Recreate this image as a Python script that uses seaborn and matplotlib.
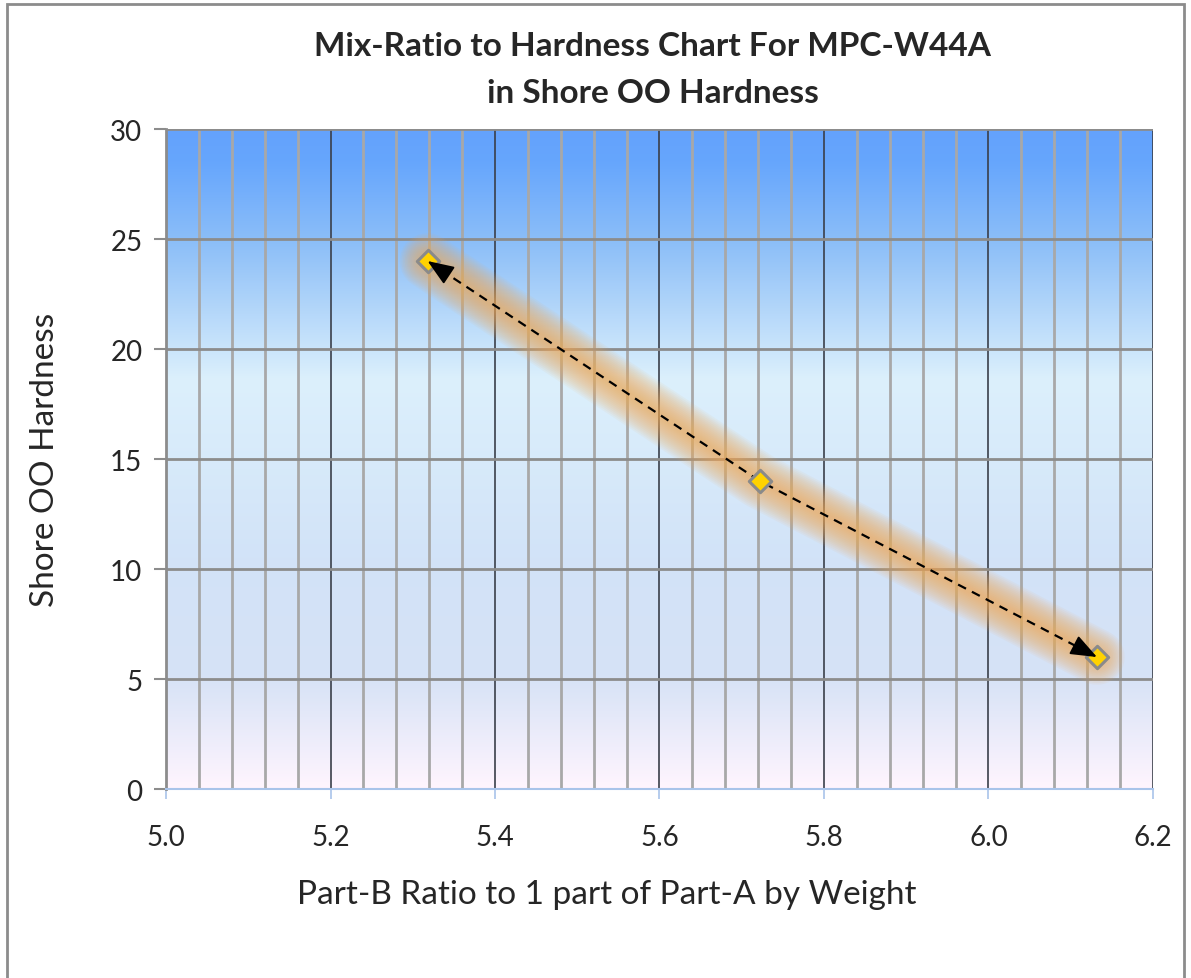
import matplotlib
matplotlib.use('Agg')
import matplotlib.pyplot as plt
import numpy as np
import pandas as pd
import seaborn as sns
from matplotlib.colors import LinearSegmentedColormap
from matplotlib.patches import Rectangle

# data
ratio = [5.318, 5.722, 6.132]
hardness = [24, 14, 6]
x_ticks = [5.0, 5.2, 5.4, 5.6, 5.8, 6.0, 6.2]
y_ticks = [0, 5, 10, 15, 20, 25, 30]

df = pd.DataFrame({'ratio': ratio, 'hardness': hardness})

sns.set_theme(style='white')
plt.rcParams['font.family'] = ['Lato', 'DejaVu Sans']

fig = plt.figure(figsize=(11.91, 9.79), dpi=100)
ax = fig.add_axes([0.1394, 0.193, 0.968 - 0.1394, 0.8672 - 0.193])

# gradient background (excel-ish preset)
grad = LinearSegmentedColormap.from_list('bg', [
    (0.00, '#FFF5FE'),
    (0.17, '#D6E2F6'),
    (0.35, '#D2E3F8'),
    (0.62, '#DCF0FC'),
    (0.82, '#8FC0F8'),
    (0.95, '#66A6FD'),
    (1.00, '#64A2FC'),
])
ax.imshow(np.linspace(0, 1, 256).reshape(-1, 1), cmap=grad, origin='lower',
          extent=[5.0, 6.2, 0, 30], aspect='auto', zorder=0)

ax.set_xlim(5.0, 6.2)
ax.set_ylim(0, 30)

# grid
ax.set_xticks(x_ticks)
ax.set_xticks(np.arange(5.0, 6.2001, 0.04), minor=True)
ax.set_yticks(y_ticks)
ax.grid(which='minor', axis='x', color='#A8A8A8', lw=2.0, zorder=1)
ax.grid(which='major', axis='x', color='#3A3F4A', lw=1.2, zorder=1.5)
ax.grid(which='major', axis='y', color='#8C8C8C', lw=2.0, zorder=1.2)

# soft glow under the line
for lw in np.linspace(40, 4, 16):
    ax.plot(df['ratio'], df['hardness'], color='#F2A955', lw=lw, alpha=0.07,
            solid_capstyle='round', solid_joinstyle='round', zorder=2)

sns.lineplot(data=df, x='ratio', y='hardness', ax=ax, color='black', lw=1.6,
             linestyle=(0, (4, 3)), sort=False, zorder=3)

sns.scatterplot(data=df, x='ratio', y='hardness', ax=ax, marker='D', s=130,
                color='#FFD200', edgecolor='#8A8A8A', linewidth=2.2, zorder=4)

# arrowheads at both ends
for i_tip, i_from in [(0, 1), (-1, -2)]:
    tip = (ratio[i_tip], hardness[i_tip])
    frm = (ratio[i_from], hardness[i_from])
    tail = (tip[0] + (frm[0] - tip[0]) * 0.06, tip[1] + (frm[1] - tip[1]) * 0.06)
    ax.annotate('', xy=tip, xytext=tail,
                arrowprops=dict(arrowstyle='-|>,head_length=0.9,head_width=0.35',
                                color='black', lw=1.4,
                                mutation_scale=18, shrinkA=0, shrinkB=0),
                zorder=5)

ax.set_xticklabels([f'{v:.1f}' for v in x_ticks], fontsize=20)
ax.set_yticklabels([str(v) for v in y_ticks], fontsize=20)
ax.tick_params(axis='y', which='major', left=True, length=9, width=1.5,
               color='#8C8C8C', pad=8)
ax.tick_params(axis='x', which='major', bottom=True, length=7, width=1.2,
               color='#A9C4EA', pad=18)
ax.tick_params(axis='x', which='minor', bottom=False)

for side in ['top', 'right']:
    ax.spines[side].set_visible(False)
ax.spines['left'].set_color('#8C8C8C')
ax.spines['left'].set_linewidth(2)
ax.spines['bottom'].set_color('#A9C4EA')
ax.spines['bottom'].set_linewidth(1.5)

ax.set_xlabel('Part-B Ratio to 1 part of Part-A by Weight', fontsize=24)
ax.xaxis.set_label_coords((607 - 166) / (1153 - 166), -(880 - 790) / (790 - 130))
ax.set_ylabel('Shore OO Hardness', fontsize=24)
ax.yaxis.set_label_coords(-(166 - 60) / (1153 - 166), 0.5)

fig.text(0.548, 0.953, 'Mix-Ratio to Hardness Chart For MPC-W44A', ha='center',
         va='center', fontsize=24, fontweight='bold')
fig.text(0.548, 0.905, 'in Shore OO Hardness', ha='center', va='center',
         fontsize=24, fontweight='bold')

# outer frame
fig.patches.append(Rectangle((0.006, -0.01), 0.988, 1.005, transform=fig.transFigure,
                             fill=False, edgecolor='#8C8C8C', lw=2))

fig.savefig('out.png', dpi=100)
